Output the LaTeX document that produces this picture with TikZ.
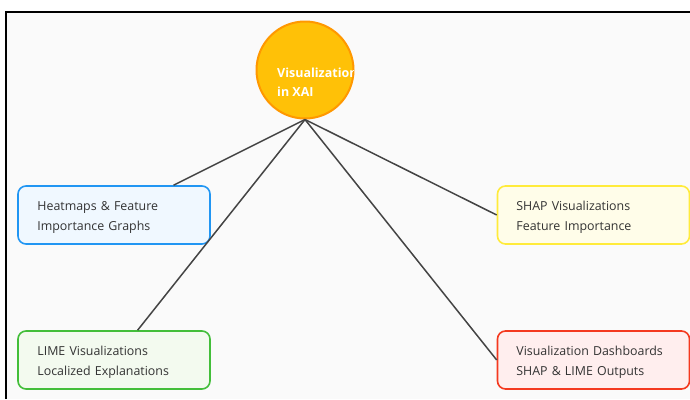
\documentclass[tikz,border=0pt]{standalone}
\usepackage{fontspec}
\setmainfont{Open Sans}
\definecolor{txt}{HTML}{333333}
\definecolor{linkc}{HTML}{444444}
\definecolor{canvas}{HTML}{FAFAFA}
\definecolor{hubfill}{HTML}{FFC107}
\definecolor{hubdraw}{HTML}{FF9800}
\definecolor{bluefill}{HTML}{F0F8FF}
\definecolor{bluedraw}{HTML}{2196F3}
\definecolor{yelfill}{HTML}{FFFDE9}
\definecolor{yeldraw}{HTML}{FFEB3B}
\definecolor{grnfill}{HTML}{F3FAEF}
\definecolor{grndraw}{HTML}{43BE3A}
\definecolor{redfill}{HTML}{FFEEEE}
\definecolor{reddraw}{HTML}{F4391F}
\begin{document}
\begin{tikzpicture}[x=1pt,y=-1pt,
  leaf/.style={draw, line width=1.6pt, rounded corners=8pt,
    minimum width=192pt, minimum height=58pt},
  leaftext/.style={text width=156pt, align=left, text=txt, inner sep=0pt,
    font=\fontsize{12.4}{20}\selectfont},
  link/.style={draw=linkc, line width=1.5pt}]
% page and frame
\useasboundingbox (0,0) rectangle (690,399);
\fill[white] (0,0) rectangle (690,399);
\fill[canvas] (6,12) rectangle (690,399);
\draw[black, line width=2.5pt] (6,399) -- (6,12) -- (690,12);
% central topic
\node[circle, fill=hubfill, draw=hubdraw, line width=2pt, minimum size=97pt, inner sep=0pt] (hub) at (305,70) {};
\begin{scope}
  \clip (305,70) circle (48pt);
  \node[anchor=north west, inner sep=0pt, text=white, align=left,
    font=\bfseries\fontsize{12.5}{19}\selectfont] (hubtext) at (277,68) {Visualization\\in XAI};
\end{scope}
% branches
\node[leaf, fill=bluefill, draw=bluedraw] (heat) at (114,215) {};
\node[leaf, fill=yelfill, draw=yeldraw] (shap) at (593.5,215) {};
\node[leaf, fill=grnfill, draw=grndraw] (lime) at (114,360) {};
\node[leaf, fill=redfill, draw=reddraw] (dash) at (593.5,360) {};
\node[leaftext, anchor=west, yshift=-2pt] (heatlbl) at ([xshift=20pt]heat.west) {Heatmaps \& Feature\\Importance Graphs};
\node[leaftext, anchor=west, yshift=-2pt] (shaplbl) at ([xshift=19.5pt]shap.west) {SHAP Visualizations\\Feature Importance};
\node[leaftext, anchor=west, yshift=-2pt] (limelbl) at ([xshift=20pt]lime.west) {LIME Visualizations\\Localized Explanations};
\node[leaftext, anchor=west, yshift=-2pt] (dashlbl) at ([xshift=19.5pt]dash.west) {Visualization Dashboards\\SHAP \& LIME Outputs};
% connectors
\draw[link] (hub.south) -- (heat);
\draw[link] (hub.south) -- (lime);
\draw[link] (hub.south) -- (shap.west);
\draw[link] (hub.south) -- (dash.west);
\end{tikzpicture}
\end{document}
